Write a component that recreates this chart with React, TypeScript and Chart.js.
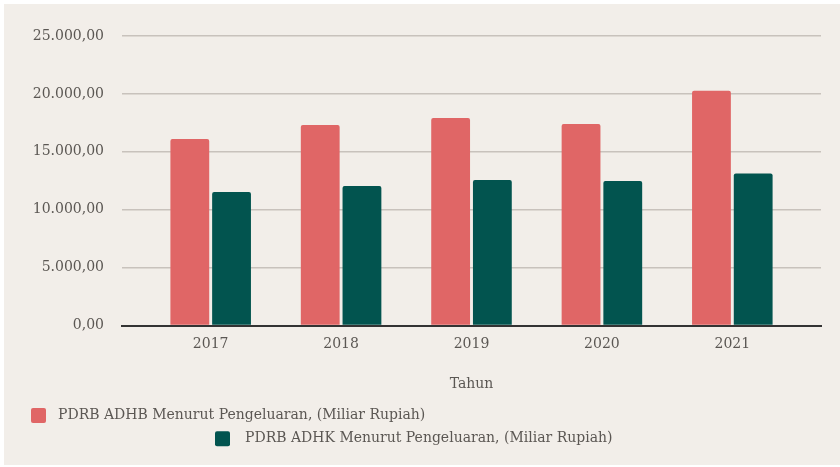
import React, { useEffect, useRef } from "react";
import { Chart, registerables } from "chart.js";

Chart.register(...registerables);

const years = [2017, 2018, 2019, 2020, 2021];
const adhb = [16100, 17320, 17920, 17400, 20270];
const adhk = [11530, 12050, 12570, 12480, 13120];
const yTicks = [0, 5000, 10000, 15000, 20000, 25000];
const seriesLabels = [
  "PDRB ADHB Menurut Pengeluaran, (Miliar Rupiah)",
  "PDRB ADHK Menurut Pengeluaran, (Miliar Rupiah)",
];
const seriesColors = ["#e06666", "#02544f"];
const xTitle = "Tahun";

const FONT = '"DejaVu Serif", Georgia, serif';
const TEXT = "#5b5753";

function fmtId(v: number): string {
  const fixed = Math.abs(v).toFixed(2);
  const [intPart, dec] = fixed.split(".");
  const withDots = intPart.replace(/\B(?=(\d{3})+(?!\d))/g, ".");
  return (v < 0 ? "-" : "") + withDots + "," + dec;
}

const legendPlugin = {
  id: "customLegend",
  afterDraw(chart: any) {
    const ctx = chart.ctx as CanvasRenderingContext2D;
    const rows = [
      { box: 27, text: 54, y: 411.5 },
      { box: 211, text: 241, y: 434.8 },
    ];
    chart.data.datasets.forEach((ds: any, i: number) => {
      const r = rows[i];
      if (!r) return;
      ctx.save();
      ctx.fillStyle = ds.backgroundColor;
      ctx.beginPath();
      (ctx as any).roundRect(r.box, r.y - 7.5, 15, 15, 2);
      ctx.fill();
      ctx.fillStyle = TEXT;
      ctx.font = "14px " + FONT;
      ctx.textBaseline = "middle";
      ctx.textAlign = "left";
      ctx.fillText(ds.label, r.text, r.y);
      ctx.restore();
    });
  },
};

export default function App() {
  const ref = useRef<HTMLCanvasElement | null>(null);

  useEffect(() => {
    if (!ref.current) return;
    const chart = new Chart(ref.current, {
      type: "bar",
      data: {
        datasets: [
          {
            label: seriesLabels[0],
            data: years.map((x, i) => ({ x, y: adhb[i] })),
            backgroundColor: seriesColors[0],
            borderRadius: 2,
            borderSkipped: "start",
          },
          {
            label: seriesLabels[1],
            data: years.map((x, i) => ({ x, y: adhk[i] })),
            backgroundColor: seriesColors[1],
            borderRadius: 2,
            borderSkipped: "start",
          },
        ],
      },
      options: {
        animation: false,
        responsive: false,
        maintainAspectRatio: false,
        categoryPercentage: 0.64,
        barPercentage: 0.93,
        layout: { padding: { top: 32, right: 19, bottom: 69.5, left: 0 } },
        plugins: {
          legend: { display: false },
          tooltip: { enabled: false },
        },
        scales: {
          x: {
            type: "linear",
            min: 2016.32,
            max: 2021.68,
            offset: false,
            afterBuildTicks: (scale: any) => {
              scale.ticks = years.map((v) => ({ value: v }));
            },
            afterFit: (scale: any) => {
              scale.height = 70;
            },
            grid: { display: false, drawTicks: false },
            border: { display: true, color: "#333333", width: 2 },
            ticks: {
              padding: 10,
              color: TEXT,
              font: { family: FONT, size: 14 },
              callback: (v: any) => String(v),
            },
            title: {
              display: true,
              text: xTitle,
              color: TEXT,
              font: { family: FONT, size: 14 },
              padding: { top: 0, bottom: 3 },
            },
          },
          y: {
            min: 0,
            max: 25000,
            afterBuildTicks: (scale: any) => {
              scale.ticks = yTicks.map((v) => ({ value: v }));
            },
            afterFit: (scale: any) => {
              scale.width = 118;
            },
            grid: { color: "#c8c2bc", lineWidth: 1.5, drawTicks: false },
            border: { display: false },
            ticks: {
              padding: 18,
              color: TEXT,
              font: { family: FONT, size: 14 },
              callback: (v: any) => fmtId(Number(v)),
            },
          },
        },
      },
      plugins: [legendPlugin],
    });
    return () => chart.destroy();
  }, []);

  return (
    <div
      style={{
        position: "absolute",
        left: 4,
        top: 4,
        width: 836,
        height: 461,
        background: "#f2eee9",
      }}
    >
      <canvas ref={ref} width={836} height={461} style={{ display: "block" }} />
    </div>
  );
}
